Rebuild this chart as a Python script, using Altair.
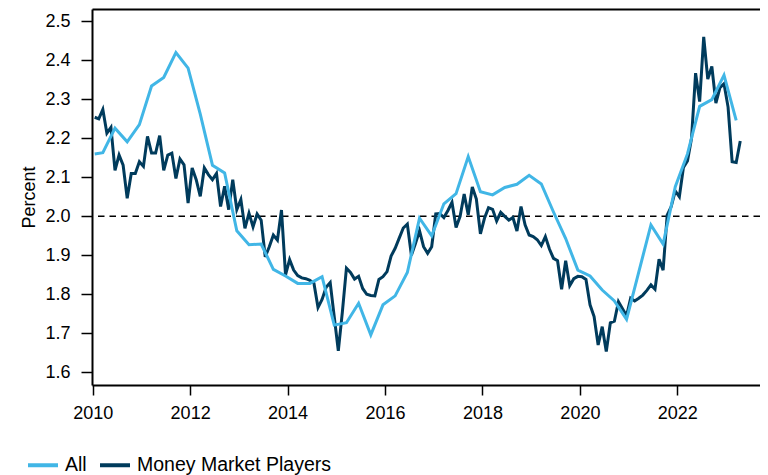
import altair as alt
import pandas as pd

# ---------------- data ----------------
series_names = ["All", "Money Market Players"]

# Money Market Players: monthly, Jan 2010 .. Apr 2023
mmp_first_month = "2010-01"
mmp_values = [
    2.254, 2.250, 2.274, 2.213, 2.228, 2.118, 2.157, 2.131, 2.046, 2.110, 2.110, 2.140,  # 2010
    2.128, 2.205, 2.162, 2.162, 2.207, 2.118, 2.157, 2.162, 2.097, 2.147, 2.132, 2.034,  # 2011
    2.124, 2.094, 2.051, 2.124, 2.107, 2.094, 2.110, 2.025, 2.077, 2.017, 2.094, 2.017,  # 2012
    2.043, 1.969, 2.008, 1.973, 2.006, 1.990, 1.896, 1.922, 1.952, 1.939, 2.016, 1.850,  # 2013
    1.889, 1.862, 1.848, 1.842, 1.840, 1.836, 1.828, 1.766, 1.787, 1.818, 1.830, 1.742,  # 2014
    1.655, 1.755, 1.867, 1.856, 1.839, 1.846, 1.815, 1.800, 1.797, 1.796, 1.838, 1.845,  # 2015
    1.858, 1.898, 1.918, 1.944, 1.970, 1.980, 1.900, 1.930, 1.963, 1.922, 1.905, 1.922,  # 2016
    2.006, 2.007, 1.997, 2.015, 2.036, 1.971, 2.000, 2.057, 2.004, 2.075, 2.044, 1.955,  # 2017
    1.995, 2.022, 2.018, 1.988, 2.010, 2.000, 1.990, 1.997, 1.962, 2.025, 1.978, 1.952,  # 2018
    1.948, 1.940, 1.925, 1.948, 1.916, 1.892, 1.886, 1.813, 1.886, 1.822, 1.840, 1.846,  # 2019
    1.845, 1.838, 1.773, 1.743, 1.670, 1.717, 1.653, 1.727, 1.731, 1.781, 1.763, 1.745,  # 2020
    1.790, 1.783, 1.790, 1.798, 1.810, 1.824, 1.813, 1.890, 1.862, 2.003, 2.025, 2.065,  # 2021
    2.050, 2.125, 2.142, 2.200, 2.367, 2.294, 2.460, 2.352, 2.384, 2.290, 2.330, 2.340,  # 2022
    2.280, 2.140, 2.138, 2.193,                                                          # 2023
]

# All: Jan 2010, then quarterly (Mar/Jun/Sep/Dec) to Mar 2023
all_months = [
    "2010-01", "2010-03", "2010-06", "2010-09", "2010-12",
    "2011-03", "2011-06", "2011-09", "2011-12",
    "2012-03", "2012-06", "2012-09", "2012-12",
    "2013-03", "2013-06", "2013-09", "2013-12",
    "2014-03", "2014-06", "2014-09", "2014-12",
    "2015-03", "2015-06", "2015-09", "2015-12",
    "2016-03", "2016-06", "2016-09", "2016-12",
    "2017-03", "2017-06", "2017-09", "2017-12",
    "2018-03", "2018-06", "2018-09", "2018-12",
    "2019-03", "2019-06", "2019-09", "2019-12",
    "2020-03", "2020-06", "2020-09", "2020-12",
    "2021-03", "2021-06", "2021-09", "2021-12",
    "2022-03", "2022-06", "2022-09", "2022-12",
    "2023-03",
]
all_values = [
    2.160, 2.163, 2.226, 2.191, 2.235,
    2.334, 2.356, 2.420, 2.380,
    2.262, 2.131, 2.111, 1.963,
    1.927, 1.929, 1.864, 1.847,
    1.828, 1.828, 1.845, 1.721,
    1.727, 1.777, 1.696, 1.773,
    1.796, 1.856, 1.995, 1.950,
    2.032, 2.058, 2.153, 2.063,
    2.055, 2.074, 2.082, 2.105,
    2.083, 2.011, 1.943, 1.862,
    1.847, 1.811, 1.783, 1.736,
    1.857, 1.978, 1.929, 2.076,
    2.160, 2.282, 2.299, 2.362,
    2.246,
]

x_ticks = [2010, 2012, 2014, 2016, 2018, 2020, 2022]
y_ticks = [1.6, 1.7, 1.8, 1.9, 2.0, 2.1, 2.2, 2.3, 2.4, 2.5]
reference_level = 2.0


def to_dec(ym):
    y, m = ym.split("-")
    return int(y) + (int(m) - 0.5) / 12.0


mmp_months = [str(p) for p in pd.period_range(mmp_first_month, periods=len(mmp_values), freq="M")]
df_mmp = pd.DataFrame({"t": [to_dec(s) for s in mmp_months], "v": mmp_values,
                       "series": series_names[1]})
df_all = pd.DataFrame({"t": [to_dec(s) for s in all_months], "v": all_values,
                       "series": series_names[0]})

# ---------------- styling ----------------
FONT = "Liberation Sans"
LIGHT = "#41B6E6"
DARK = "#003B5C"
# whole chart kept within the 752 px content box (avoids flex shrinking)
W, H = 668, 376
PAD_TOP = 1
PX_PER_YEAR = 48.72
PX_PER_UNIT = 390.0
XMIN = 2009.986
XMAX = XMIN + W / PX_PER_YEAR
YMAX = 2.5 + (21.3 - (8 + PAD_TOP)) / PX_PER_UNIT
YMIN = YMAX - H / PX_PER_UNIT

x_scale = alt.Scale(domain=[XMIN, XMAX], nice=False, zero=False)
y_scale = alt.Scale(domain=[YMIN, YMAX], nice=False, zero=False)
color_scale = alt.Scale(domain=series_names, range=[LIGHT, DARK])
legend = alt.Legend(title=None, orient="none", legendX=-66, legendY=439,
                    direction="horizontal", symbolType="stroke", symbolSize=900,
                    symbolStrokeWidth=4, labelFontSize=19.5, labelFont=FONT,
                    labelColor="black", labelOffset=5, columnPadding=5,
                    labelLimit=500)

x_enc = alt.X("t:Q", scale=x_scale,
              axis=alt.Axis(values=x_ticks, format="d", title=None, tickSize=10,
                            labelPadding=9, labelFlush=False))
y_enc = alt.Y("v:Q", scale=y_scale,
              axis=alt.Axis(values=y_ticks, format=".1f", title="Percent", tickSize=11,
                            labelPadding=11, titleX=-57.7, titleBaseline="alphabetic"))

ref = alt.Chart(pd.DataFrame({"v": [reference_level]})).mark_rule(
    color="black", strokeDash=[6.5, 5], strokeWidth=1.6
).encode(y=alt.datum(reference_level))

dark = alt.Chart(df_mmp).mark_line(strokeWidth=3, clip=True).encode(
    x=x_enc, y=y_enc, color=alt.Color("series:N", scale=color_scale, legend=legend))
light = alt.Chart(df_all).mark_line(strokeWidth=3, clip=True).encode(
    x=x_enc, y=y_enc, color=alt.Color("series:N", scale=color_scale, legend=legend))

base = alt.layer(ref, dark, light)

# top frame line, drawn as a domain-only axis on top of the plot
frame_top = alt.Chart(pd.DataFrame({"t": [XMIN]})).mark_point(opacity=0).encode(
    x=alt.X("t:Q", scale=x_scale,
            axis=alt.Axis(orient="top", ticks=False, labels=False, title=None,
                          domain=True, domainWidth=2.2, domainColor="black"))
)

chart = alt.layer(base, frame_top).resolve_axis(x="independent").properties(
    width=W, height=H,
    autosize=alt.AutoSizeParams(type="none"),
    padding={"left": 84, "top": PAD_TOP, "right": 0, "bottom": 90},
).configure_axis(
    domainColor="black", domainWidth=2, tickColor="black", tickWidth=1.5,
    labelColor="black", labelFont=FONT, labelFontSize=18,
    titleFont=FONT, titleFontSize=18, titleColor="black", titleFontWeight="normal",
    grid=False,
).configure_view(stroke=None)

chart.save("out.html", embed_options={"renderer": "svg", "actions": False})
